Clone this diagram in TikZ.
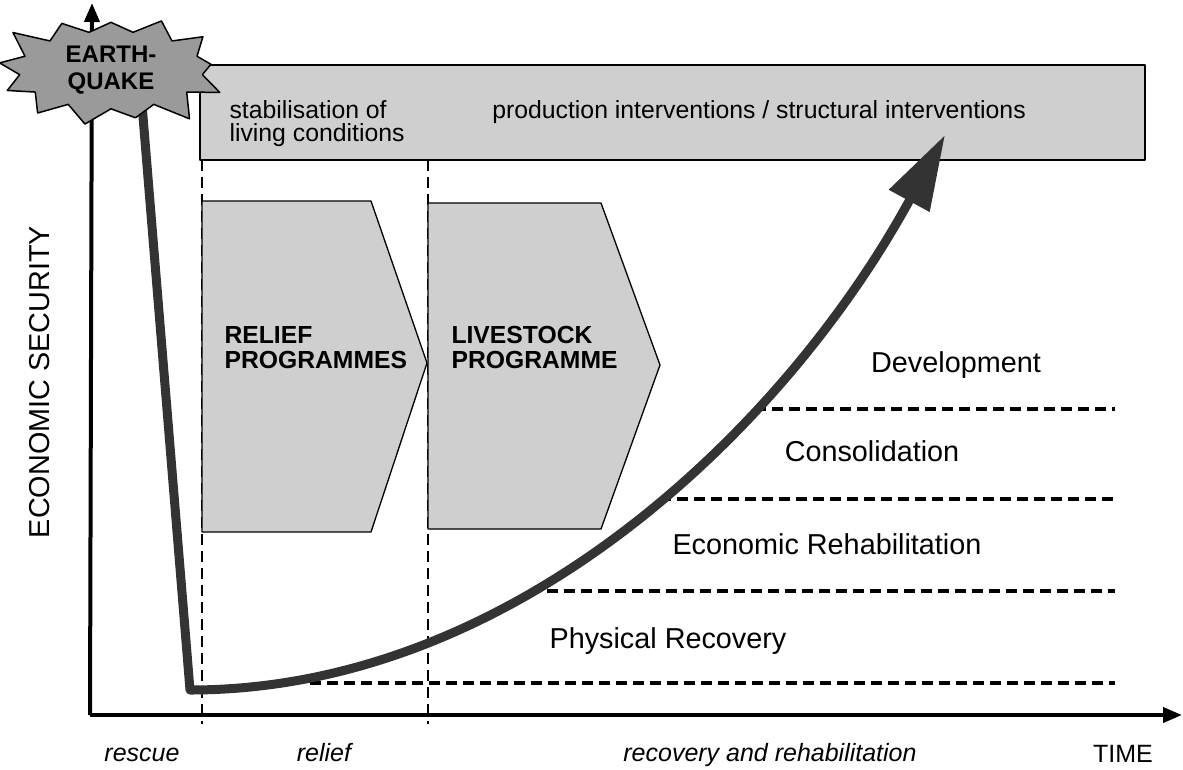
\documentclass[tikz,border=0pt]{standalone}
\usepackage{fontspec}
\setmainfont{Liberation Sans}
\usetikzlibrary{arrows.meta,shapes.symbols,positioning}
\definecolor{boxgray}{HTML}{CFCFCF}
\definecolor{quakegray}{HTML}{9A9A9A}
\definecolor{trendgray}{HTML}{333333}
\begin{document}
\begin{tikzpicture}[x=1pt,y=-1pt,line join=round,
  font=\fontsize{28.8}{31}\selectfont,
  axis/.style={line width=4pt,-{Triangle[length=19pt,width=15pt]}},
  guide/.style={line width=2.4pt,dash pattern=on 11pt off 6pt},
  level/.style={line width=3.2pt,dash pattern=on 11pt off 6pt},
  box/.style={draw,fill=boxgray,line width=1.3pt},
  trend/.style={draw=trendgray,line width=9pt,-{Triangle[length=75pt,width=44pt,fill=trendgray]}},
  prog/.style={anchor=base west,align=left,font=\bfseries\fontsize{24.7}{25}\selectfont},
  small/.style={font=\fontsize{24.8}{23}\selectfont},
  period/.style={anchor=base,font=\itshape\fontsize{25}{27}\selectfont}]
\useasboundingbox (0,0) rectangle (1183,769);
% intervention band
\draw[box] (200,65) rectangle (1145,160);
\node[small,anchor=base west,align=left] (stab) at (226,141) {stabilisation of\\living conditions};
\node[small,anchor=base] (prod) at (759,118) {production interventions / structural interventions};
% phase borders
\foreach \x/\n in {202/a,428/b}{
  \coordinate (top\n) at (\x,160);
  \coordinate (bot\n) at (\x,724);
  \draw[guide] (top\n) -- (bot\n);}
% programmes
\draw[box] (202,201) -- (371,201) -- (427,363) -- (371,532) -- (202,532) -- cycle;
\draw[box] (428,203) -- (601,203) -- (660,365) -- (601,529) -- (428,529) -- cycle;
\node[prog] (relief) at (221,368) {RELIEF\\PROGRAMMES};
\node[prog] (stock) at (448,368) {LIVESTOCK\\PROGRAMME};
% levels
\foreach \y/\s in {409/755,499/660,591/530,683/310}{
  \draw[level] (\s,\y) -- (1115,\y);}
\node[anchor=base] (dev) at (956,372) {Development};
\node[anchor=base] (cons) at (872,461) {Consolidation};
\node[anchor=base] (ecor) at (827,554) {Economic Rehabilitation};
\node[anchor=base] (phys) at (668,648) {Physical Recovery};
% axes
\coordinate (O) at (90,715);
\draw[axis] (O) -- (92,3);
\draw[axis] (O) -- (1182,715);
\node[rotate=90] (ylab) at (40,382) {ECONOMIC SECURITY};
\node[anchor=base] (time) at (1123,762) {\fontsize{25}{26}\selectfont TIME};
\node[period] (rescue) at (142,761) {rescue};
\node[period] (relph) at (324,761) {relief};
\node[period] (recph) at (770,761) {recovery and rehabilitation};
% trend
\coordinate (start) at (140,80);
\coordinate (low) at (190,690);
\coordinate (goal) at (945,135);
\draw[trend] (start) -- (low) .. controls (520,690) and (790,420) .. (goal);
% earthquake
\node[starburst,draw,fill=quakegray,line width=1.5pt,starburst points=13,
  starburst point height=28pt,random starburst=3,minimum width=240pt,minimum height=128pt,
  align=center,font=\bfseries\fontsize{24}{27}\selectfont] (quake) at (111,70) {EARTH-\\QUAKE};
\end{tikzpicture}
\end{document}
